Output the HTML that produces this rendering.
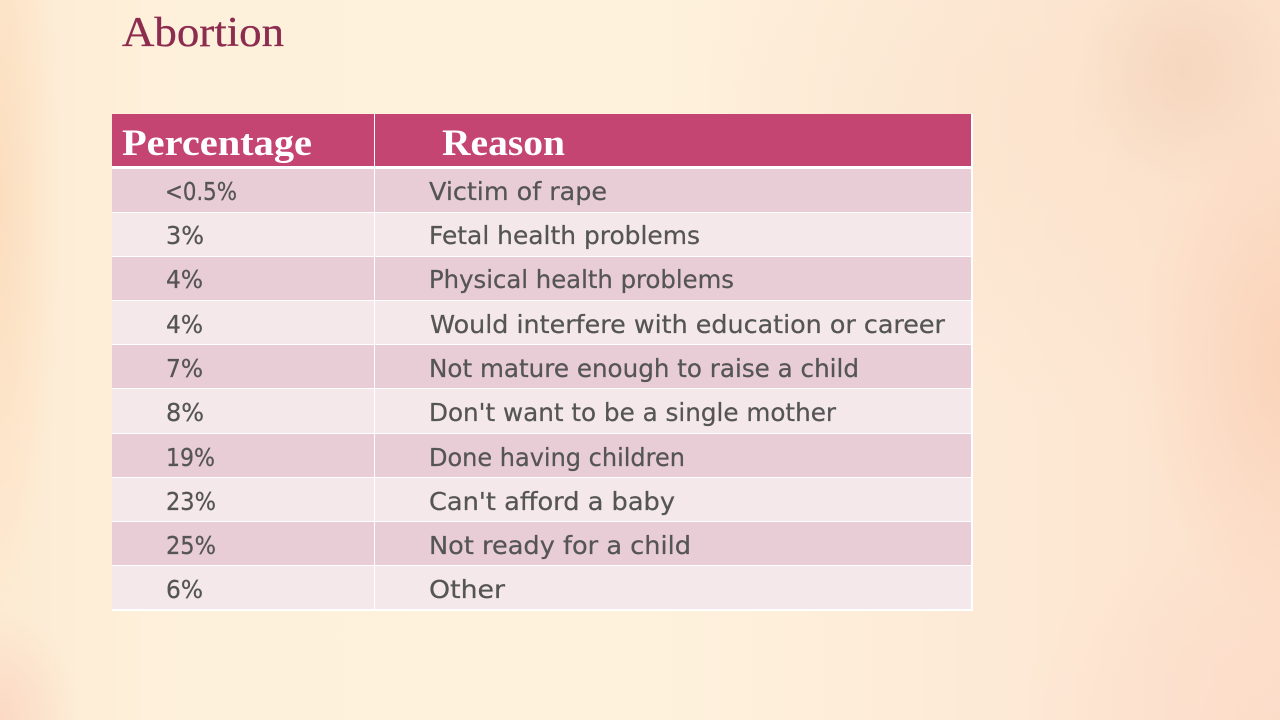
<!DOCTYPE html>
<html>
<head>
<meta charset="utf-8">
<style>
html,body{margin:0;padding:0;}
body{width:1280px;height:720px;overflow:hidden;position:relative;
background:
 radial-gradient(ellipse 110px 120px at 1185px 70px, rgba(238,200,172,0.45), rgba(238,200,172,0) 100%),
 radial-gradient(ellipse 150px 260px at 1290px 360px, rgba(250,205,178,0.7), rgba(250,205,178,0) 100%),
 radial-gradient(ellipse 260px 200px at 1280px 720px, rgba(252,218,200,0.7), rgba(252,218,200,0) 100%),
 radial-gradient(ellipse 80px 110px at 0px 720px, rgba(250,208,190,0.7), rgba(250,208,190,0) 100%),
 radial-gradient(ellipse 60px 420px at 0px 200px, rgba(252,218,185,0.8), rgba(252,218,185,0) 100%),
 radial-gradient(ellipse 400px 300px at 1060px 120px, rgba(250,222,198,0.45), rgba(250,222,198,0) 100%),
 linear-gradient(90deg, #fdebd3 0%, #fef1dc 15%, #fef2dd 50%, #fde9d5 80%, #fce1cc 100%);
}
svg{position:absolute;left:0;top:0;}
.t{font-family:"DejaVu Sans","Liberation Sans",sans-serif;font-size:25px;fill:#555555;stroke:#555555;stroke-width:0.25px;}
.h{font-family:"Liberation Serif",serif;font-weight:bold;font-size:37px;fill:#ffffff;}
</style>
</head>
<body>
<svg width="1280" height="720" viewBox="0 0 1280 720" xmlns="http://www.w3.org/2000/svg">
  <text x="122" y="46" font-family="Liberation Serif, serif" font-size="42" fill="#8c2c4f" stroke="#8c2c4f" stroke-width="0.3" textLength="162" lengthAdjust="spacingAndGlyphs">Abortion</text>

  <!-- table -->
  <rect x="112" y="114" width="860" height="52" fill="#c44472"/>
  <rect x="112" y="166" width="860" height="3" fill="#ffffff"/>
  <rect x="112" y="169" width="860" height="43" fill="#e9cdd6"/>
  <rect x="112" y="213" width="860" height="43" fill="#f4e8eb"/>
  <rect x="112" y="257" width="860" height="43" fill="#e9cdd6"/>
  <rect x="112" y="301" width="860" height="43" fill="#f4e8eb"/>
  <rect x="112" y="345" width="860" height="43" fill="#e9cdd6"/>
  <rect x="112" y="389" width="860" height="44" fill="#f4e8eb"/>
  <rect x="112" y="434" width="860" height="43" fill="#e9cdd6"/>
  <rect x="112" y="478" width="860" height="43" fill="#f4e8eb"/>
  <rect x="112" y="522" width="860" height="43" fill="#e9cdd6"/>
  <rect x="112" y="566" width="860" height="43" fill="#f4e8eb"/>
  <g fill="#ffffff">
    <rect x="112" y="212" width="860" height="1"/>
    <rect x="112" y="256" width="860" height="1"/>
    <rect x="112" y="300" width="860" height="1"/>
    <rect x="112" y="344" width="860" height="1"/>
    <rect x="112" y="388" width="860" height="1"/>
    <rect x="112" y="433" width="860" height="1"/>
    <rect x="112" y="477" width="860" height="1"/>
    <rect x="112" y="521" width="860" height="1"/>
    <rect x="112" y="565" width="860" height="1"/>
    <rect x="112" y="609" width="861" height="2"/>
    <rect x="971" y="114" width="2" height="497"/>
    <rect x="374" y="114" width="1" height="496"/>
  </g>

  <text class="h" x="122" y="155" textLength="190" lengthAdjust="spacingAndGlyphs">Percentage</text>
  <text class="h" x="442" y="155" textLength="123" lengthAdjust="spacingAndGlyphs">Reason</text>

  <text class="t" x="165" y="200" textLength="72" lengthAdjust="spacingAndGlyphs">&lt;0.5%</text>
  <text class="t" x="429" y="200" textLength="178" lengthAdjust="spacingAndGlyphs">Victim of rape</text>

  <text class="t" x="166" y="244" textLength="38" lengthAdjust="spacingAndGlyphs">3%</text>
  <text class="t" x="429" y="244" textLength="271" lengthAdjust="spacingAndGlyphs">Fetal health problems</text>

  <text class="t" x="166" y="288" textLength="37" lengthAdjust="spacingAndGlyphs">4%</text>
  <text class="t" x="429" y="288" textLength="305" lengthAdjust="spacingAndGlyphs">Physical health problems</text>

  <text class="t" x="166" y="333" textLength="37" lengthAdjust="spacingAndGlyphs">4%</text>
  <text class="t" x="430" y="333" textLength="515" lengthAdjust="spacingAndGlyphs">Would interfere with education or career</text>

  <text class="t" x="166" y="377" textLength="37" lengthAdjust="spacingAndGlyphs">7%</text>
  <text class="t" x="429" y="377" textLength="430" lengthAdjust="spacingAndGlyphs">Not mature enough to raise a child</text>

  <text class="t" x="166" y="421" textLength="38" lengthAdjust="spacingAndGlyphs">8%</text>
  <text class="t" x="429" y="421" textLength="407" lengthAdjust="spacingAndGlyphs">Don't want to be a single mother</text>

  <text class="t" x="166" y="466" textLength="49" lengthAdjust="spacingAndGlyphs">19%</text>
  <text class="t" x="429" y="466" textLength="256" lengthAdjust="spacingAndGlyphs">Done having children</text>

  <text class="t" x="166" y="510" textLength="50" lengthAdjust="spacingAndGlyphs">23%</text>
  <text class="t" x="429" y="510" textLength="246" lengthAdjust="spacingAndGlyphs">Can't afford a baby</text>

  <text class="t" x="166" y="554" textLength="50" lengthAdjust="spacingAndGlyphs">25%</text>
  <text class="t" x="429" y="554" textLength="262" lengthAdjust="spacingAndGlyphs">Not ready for a child</text>

  <text class="t" x="166" y="598" textLength="37" lengthAdjust="spacingAndGlyphs">6%</text>
  <text class="t" x="429" y="598" textLength="76" lengthAdjust="spacingAndGlyphs">Other</text>
</svg>
</body>
</html>
